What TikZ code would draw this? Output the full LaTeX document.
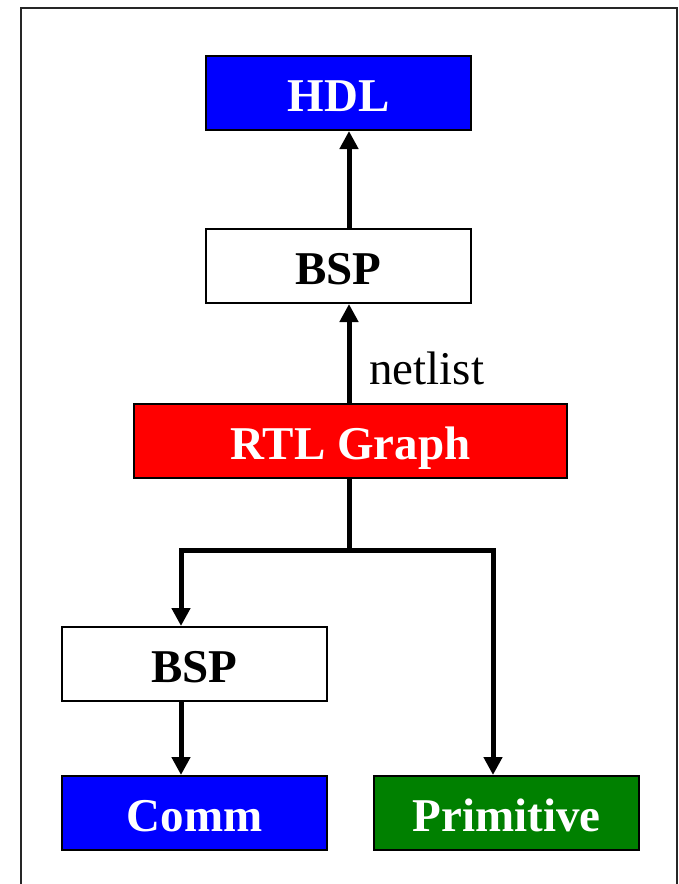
\documentclass[tikz,border=0pt]{standalone}
\usepackage{fontspec}
\setmainfont{Liberation Serif}
\usetikzlibrary{arrows.meta}
\definecolor{boxblue}{RGB}{0,0,255}
\definecolor{boxred}{RGB}{255,0,0}
\definecolor{boxgreen}{RGB}{0,128,0}
\begin{document}
\begin{tikzpicture}[x=1pt,y=-1pt,
  blk/.style={draw=black,line width=2pt,minimum width=265pt,minimum height=74pt,inner sep=0pt,
    text height=37pt,text depth=0pt,
    font=\fontsize{47}{50}\selectfont\bfseries,anchor=north west},
  colblk/.style={blk,text=white},
  conn/.style={line width=5pt,-{Triangle[length=18pt,width=18pt]}},
  plain/.style={line width=5pt}]
\useasboundingbox (0,0) rectangle (679,884);
\draw[line width=2pt,color=black!85] (21,900) -- (21,8) -- (677,8) -- (677,900);
\node[colblk,fill=boxblue] (hdl) at (205,55) {HDL};
\node[blk,fill=white] (bsp1) at (205,228) {BSP};
\node[colblk,fill=boxred,minimum width=433pt] (rtl) at (133,403) {RTL Graph};
\node[blk,fill=white] (bsp2) at (61,626) {BSP};
\node[colblk,fill=boxblue] (comm) at (61,775) {Comm};
\node[colblk,fill=boxgreen] (prim) at (373,775) {Primitive};
\node[anchor=base west,font=\fontsize{47}{50}\selectfont,inner sep=0pt] (net) at (369,384) {netlist};
\coordinate (j) at (349,550);
\coordinate (jl) at (181,550);
\coordinate (jr) at (493,550);
\draw[conn] (bsp1.north -| j) -- (hdl.south -| j);
\draw[conn] (rtl.north -| j) -- (bsp1.south -| j);
\draw[plain,line cap=rect] (rtl.south -| j) -- (j);
\draw[plain,line cap=rect] (jl) -- (jr);
\draw[conn] (jl) -- (bsp2.north -| jl);
\draw[conn] (jr) -- (prim.north -| jr);
\draw[conn] (bsp2.south -| jl) -- (comm.north -| jl);
\end{tikzpicture}
\end{document}
